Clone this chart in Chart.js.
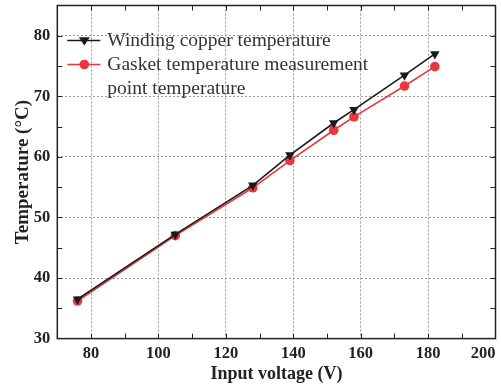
<!DOCTYPE html>
<html>
<head>
<meta charset="utf-8">
<script src="https://cdn.jsdelivr.net/npm/chart.js@4.4.0/dist/chart.umd.min.js"></script>
<style>
  body { margin: 0; background: #fff; }
  #wrap { width: 501px; height: 385px; }
</style>
</head>
<body>
<div id="wrap"><canvas id="grafico"></canvas></div>
<script>
// dados
const tensao = [76, 105, 128, 139, 152, 158, 173, 182];
const tempEnrolamento = [36.5, 47.2, 55.3, 60.3, 65.6, 67.8, 73.5, 77.0];
const tempJunta = [36.2, 47.0, 54.9, 59.4, 64.4, 66.6, 71.7, 74.9];

// 70 fica sem rótulo (só serve para o align "inner" no 200)
const xTicks = [70, 80, 100, 120, 140, 160, 180, 200];
const yTicks = [30, 40, 50, 60, 70, 80];

const nomesSeries = [
  ["Winding copper temperature"],
  ["Gasket temperature measurement", "point temperature"],
];

const serif = "'Liberation Serif', 'Times New Roman', serif";

function pontos(ys) {
  return tensao.map((v, i) => ({ x: v, y: ys[i] }));
}

// moldura + ticks para dentro nos quatro lados
const moldura = {
  id: "moldura",
  afterDatasetsDraw(chart) {
    const { ctx, chartArea: a, scales } = chart;
    ctx.save();
    ctx.strokeStyle = "#222";
    ctx.lineWidth = 1.5;
    ctx.strokeRect(a.left, a.top, a.right - a.left, a.bottom - a.top);
    ctx.lineWidth = 1;
    ctx.beginPath();
    for (let v = 80; v < 200; v += 10) {
      const px = Math.round(scales.x.getPixelForValue(v)) + 0.5;
      ctx.moveTo(px, a.bottom); ctx.lineTo(px, a.bottom - 5);
      ctx.moveTo(px, a.top); ctx.lineTo(px, a.top + 5);
    }
    for (let v = 35; v <= 80; v += 5) {
      const py = Math.round(scales.y.getPixelForValue(v)) + 0.5;
      ctx.moveTo(a.left, py); ctx.lineTo(a.left + 5, py);
      ctx.moveTo(a.right, py); ctx.lineTo(a.right - 5, py);
    }
    ctx.stroke();
    ctx.restore();
  },
};

// legenda dentro da área do gráfico
const legenda = {
  id: "legenda",
  afterDraw(chart) {
    const { ctx, chartArea: a } = chart;
    const x0 = a.left + 10, x1 = a.left + 43, xm = a.left + 27;
    let y = a.top + 35;
    ctx.save();
    ctx.font = "19.5px " + serif;
    ctx.textBaseline = "middle";
    chart.data.datasets.forEach((ds, i) => {
      ctx.strokeStyle = ds.borderColor;
      ctx.lineWidth = 1.5;
      ctx.beginPath();
      ctx.moveTo(x0, y); ctx.lineTo(x1, y);
      ctx.stroke();
      ctx.fillStyle = ds.pointBackgroundColor;
      ctx.beginPath();
      if (ds.pointStyle === "triangle") {
        const r = ds.pointRadius;
        ctx.moveTo(xm - r, y - r * 0.6);
        ctx.lineTo(xm + r, y - r * 0.6);
        ctx.lineTo(xm, y + r * 0.9);
        ctx.closePath();
      } else {
        ctx.arc(xm, y, ds.pointRadius, 0, Math.PI * 2);
      }
      ctx.fill();
      ctx.fillStyle = "#333";
      nomesSeries[i].forEach((t) => {
        ctx.fillText(t, x1 + 7, y);
        y += 24;
      });
    });
    ctx.restore();
  },
};

new Chart(document.getElementById("grafico"), {
  type: "line",
  data: {
    datasets: [
      {
        label: nomesSeries[0].join(" "),
        data: pontos(tempEnrolamento),
        borderColor: "#1a1a1a",
        borderWidth: 1.6,
        pointStyle: "triangle",
        rotation: 180,
        pointRadius: 5.5,
        pointBackgroundColor: "#1a1a1a",
        pointBorderColor: "#1a1a1a",
        pointBorderWidth: 0,
      },
      {
        label: nomesSeries[1].join(" "),
        data: pontos(tempJunta),
        borderColor: "#e8383d",
        borderWidth: 1.6,
        pointStyle: "circle",
        pointRadius: 4.8,
        pointBackgroundColor: "#e8383d",
        pointBorderColor: "#e8383d",
        pointBorderWidth: 0,
      },
    ],
  },
  options: {
    responsive: true,
    maintainAspectRatio: false,
    animation: false,
    layout: { padding: { top: 5, right: -1, left: 12, bottom: 0 } },
    plugins: { legend: { display: false }, tooltip: { enabled: false } },
    scales: {
      x: {
        type: "linear",
        min: 70,
        max: 200,
        afterBuildTicks: (s) => { s.ticks = xTicks.map((v) => ({ value: v })); },
        afterFit: (s) => { s.paddingRight = 0; s.paddingLeft = 0; },
        grid: { color: "#9a9a9a", lineWidth: 1, drawTicks: false },
        border: { display: false, dash: [2, 2] },
        ticks: {
          color: "#222",
          padding: 5,
          align: "inner",
          callback: (v) => (v === 70 ? "" : v),
          font: { family: serif, size: 16.5, weight: "bold" },
        },
        title: {
          display: true,
          text: "Input voltage (V)",
          color: "#222",
          padding: { top: -5, bottom: 0 },
          font: { family: serif, size: 18, weight: "bold" },
        },
      },
      y: {
        min: 30,
        max: 85,
        afterBuildTicks: (s) => { s.ticks = yTicks.map((v) => ({ value: v })); },
        afterFit: (s) => { s.paddingTop = 0; s.paddingBottom = 0; },
        grid: { color: "#9a9a9a", lineWidth: 1, drawTicks: false },
        border: { display: false, dash: [2, 2] },
        ticks: { color: "#222", padding: 7, font: { family: serif, size: 16.5, weight: "bold" } },
        title: {
          display: true,
          text: "Temperature (°C)",
          color: "#222",
          padding: { top: 0, bottom: -8 },
          font: { family: serif, size: 19, weight: "bold" },
        },
      },
    },
  },
  plugins: [moldura, legenda],
});
</script>
</body>
</html>
